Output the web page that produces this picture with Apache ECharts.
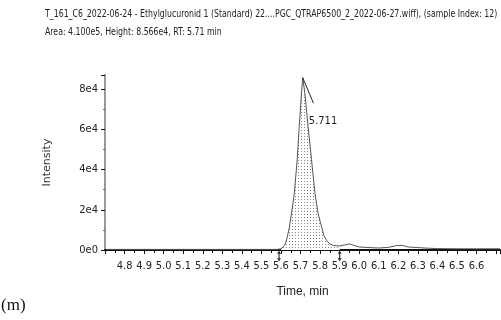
<!DOCTYPE html>
<html>
<head>
<meta charset="utf-8">
<script src="https://cdn.jsdelivr.net/npm/echarts@6/dist/echarts.min.js"></script>
<style>
  html, body { margin: 0; padding: 0; background: #fff; }
  #chart { width: 501px; height: 320px; }
</style>
</head>
<body>
<div id="chart"></div>
<script>
// chromatogram (time in min, intensity in cps)
const times = [4.71, 4.9, 5.1, 5.3, 5.5, 5.58, 5.6, 5.62, 5.63, 5.643, 5.655, 5.668, 5.683, 5.693, 5.705, 5.711,
    5.722, 5.739, 5.756, 5.774, 5.79, 5.808, 5.82, 5.835, 5.85, 5.87, 5.9, 5.93, 5.95, 5.97, 6.0, 6.05,
    6.1, 6.15, 6.19, 6.22, 6.25, 6.3, 6.35, 6.4, 6.5, 6.6, 6.72];
const intensity = [300, 300, 300, 300, 300, 300, 600, 2500, 5500, 11400, 19000, 28000, 45000, 61000, 78000, 85660,
    78000, 61000, 45000, 28000, 18000, 11400, 7000, 4500, 3000, 2200, 2000, 2600, 3000, 2400, 1500, 1200,
    1000, 1300, 2200, 2300, 1500, 1200, 900, 700, 600, 600, 600];
const peakStart = 5.59;
const peakEnd = 5.9;
const peakRT = 5.711;
const peakHeight = 85660;

const titleLine1 = 'T_161_C6_2022-06-24 - Ethylglucuronid 1 (Standard) 22....PGC_QTRAP6500_2_2022-06-27.wiff), (sample Index: 12)';
const titleLine2 = 'Area: 4.100e5, Height: 8.566e4, RT: 5.71 min';
const yTickLabels = { 0: '0e0', 20000: '2e4', 40000: '4e4', 60000: '6e4', 80000: '8e4' };

const narrow = '"Liberation Sans Narrow", "DejaVu Sans Condensed", sans-serif';

const trace = times.map((t, i) => [t, intensity[i]]);
const integrated = trace.filter(p => p[0] >= peakStart && p[0] <= peakEnd);

// dotted fill like the hatch under the integrated peak
const dots = document.createElement('canvas');
dots.width = 3;
dots.height = 3;
const dctx = dots.getContext('2d');
dctx.fillStyle = '#fff';
dctx.fillRect(0, 0, 3, 3);
dctx.fillStyle = '#888';
dctx.fillRect(1, 1, 1, 1);

const chart = echarts.init(document.getElementById('chart'), null, { renderer: 'canvas' });

const tickArrow = 'path://M2,0 L4,3 L2.6,3 L2.6,7 L4,7 L2,10 L0,7 L1.4,7 L1.4,3 L0,3 Z';

chart.setOption({
    animation: false,
    backgroundColor: '#fff',
    grid: { left: 105, right: 1, top: 75, bottom: 70 },
    graphic: [
        { type: 'text', left: 45, top: 9, scaleX: 0.79, style: { text: titleLine1, font: '11px ' + narrow, fill: '#222' } },
        { type: 'text', left: 45, top: 27, scaleX: 0.79, style: { text: titleLine2, font: '11px ' + narrow, fill: '#222' } },
        { type: 'text', left: 1, top: 297, style: { text: '(m)', font: '17px "Liberation Serif", serif', fill: '#111' } }
    ],
    xAxis: {
        type: 'value',
        min: 4.7,
        max: 6.72,
        interval: 0.1,
        name: 'Time, min',
        nameLocation: 'middle',
        nameGap: 36,
        nameTextStyle: { font: '11px ' + narrow, color: '#222' },
        axisLine: { onZero: false, lineStyle: { color: '#111', width: 2 } },
        axisTick: { length: 4, lineStyle: { color: '#111' } },
        minorTick: { show: true, splitNumber: 2, length: 3, lineStyle: { color: '#111' } },
        splitLine: { show: false },
        axisLabel: {
            showMinLabel: false,
            showMaxLabel: false,
            margin: 11,
            fontFamily: narrow,
            fontSize: 11,
            color: '#222',
            formatter: v => (v > 6.65 ? '' : v.toFixed(1))
        }
    },
    yAxis: {
        type: 'value',
        min: 0,
        max: 87000,
        interval: 20000,
        name: 'Intensity',
        nameLocation: 'middle',
        nameGap: 52,
        nameTextStyle: { fontFamily: 'DejaVu Sans', fontSize: 11, color: '#333' },
        axisLine: { show: true, lineStyle: { color: '#999', width: 2 } },
        axisTick: { show: true, length: 4, lineStyle: { color: '#111' } },
        minorTick: { show: true, splitNumber: 2, length: 2, lineStyle: { color: '#666' } },
        splitLine: { show: false },
        axisLabel: {
            showMaxLabel: false,
            margin: 7,
            fontFamily: narrow,
            fontSize: 11,
            color: '#222',
            formatter: v => yTickLabels[v] || ''
        }
    },
    series: [
        {
            type: 'line',
            data: integrated,
            showSymbol: false,
            lineStyle: { width: 0 },
            areaStyle: { color: { image: dots, repeat: 'repeat' }, opacity: 1 },
            z: 1,
            silent: true
        },
        {
            type: 'line',
            data: trace,
            showSymbol: false,
            symbol: 'none',
            lineStyle: { color: '#555', width: 1 },
            z: 3,
            markLine: {
                silent: true,
                symbol: 'none',
                label: { show: false },
                lineStyle: { color: '#222', width: 1, type: 'solid' },
                data: [[{ coord: [peakRT, peakHeight] }, { coord: [peakRT + 0.055, 73000] }]]
            },
            markPoint: {
                silent: true,
                data: [
                    {
                        coord: [peakRT + 0.104, 64000],
                        symbol: 'rect',
                        symbolSize: 1,
                        itemStyle: { color: 'transparent' },
                        label: { show: true, position: 'inside', formatter: String(peakRT), fontFamily: narrow, fontSize: 11, color: '#222' }
                    },
                    {
                        coord: [peakStart, 0],
                        symbol: tickArrow,
                        symbolSize: [4, 11],
                        symbolOffset: [0, 6],
                        itemStyle: { color: '#333' },
                        label: { show: false }
                    },
                    {
                        coord: [peakEnd, 0],
                        symbol: tickArrow,
                        symbolSize: [4, 11],
                        symbolOffset: [0, 6],
                        itemStyle: { color: '#333' },
                        label: { show: false }
                    }
                ]
            }
        }
    ]
});
</script>
</body>
</html>
